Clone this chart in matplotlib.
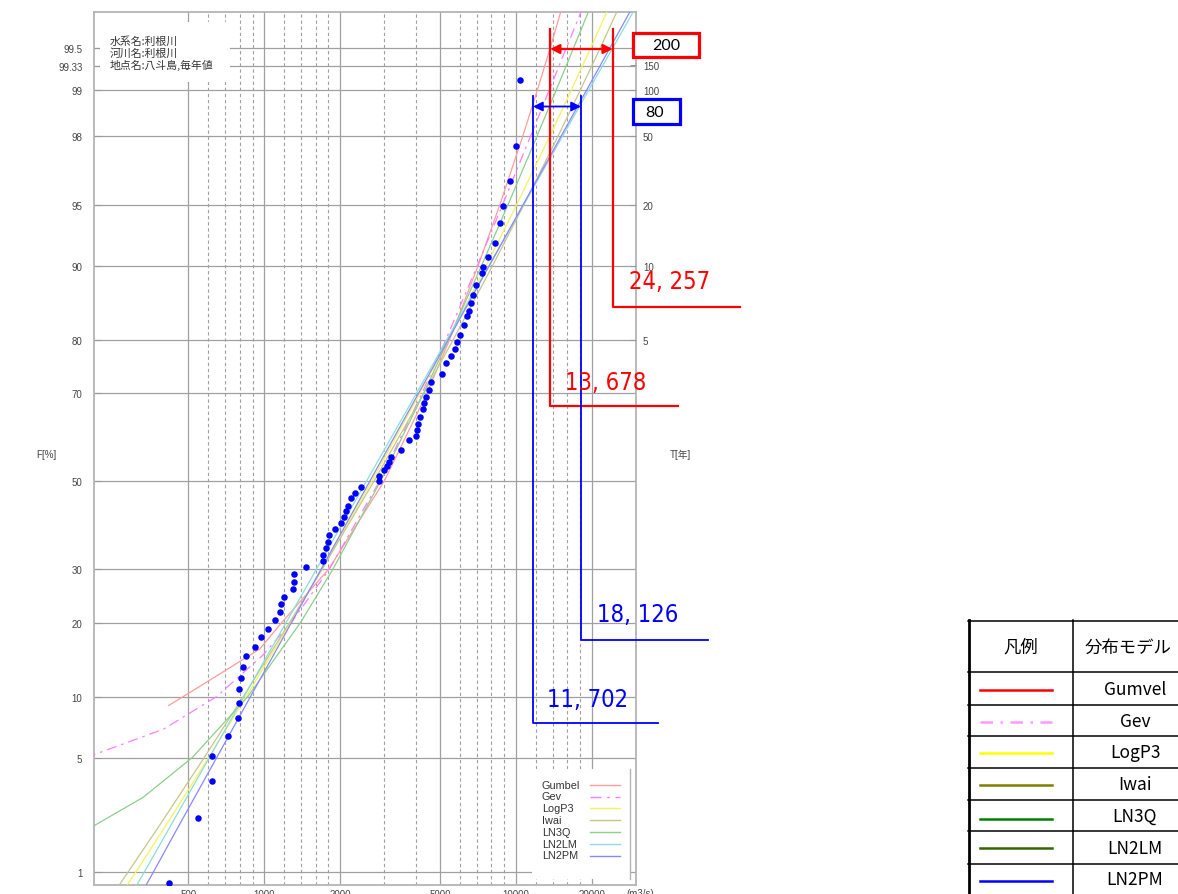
import math
import numpy as np
import matplotlib
matplotlib.use("Agg")
import matplotlib.pyplot as plt
from matplotlib import font_manager
from matplotlib.lines import Line2D
from matplotlib.patches import Rectangle

# observed annual maximum discharge (m3/s) and plotting position F (%)
obs_q = [417, 544, 622, 622, 718, 791, 792, 798, 808, 826, 846, 924, 976, 1038,
         1103, 1154, 1169, 1197, 1300, 1320, 1320, 1464, 1710, 1710, 1753, 1790,
         1818, 1920, 2011, 2067, 2118, 2149, 2217, 2299, 2436, 2854, 2854, 3006,
         3090, 3147, 3205, 3512, 3778, 4027, 4064, 4102, 4177, 4293, 4333, 4413,
         4536, 4620, 5108, 5299, 5546, 5753, 5858, 6022, 6246, 6420, 6539, 6659,
         6782, 6970, 7362, 7430, 7777, 8294, 8680, 8922, 9511, 10046, 10420]
obs_f = [0.84, 2.25, 3.71, 5.09, 6.46, 7.93, 9.33, 10.8, 12.1, 13.5, 14.9, 16.2,
         17.7, 19.0, 20.5, 21.8, 23.2, 24.6, 26.1, 27.4, 29.0, 30.4, 31.7, 33.1,
         34.5, 35.9, 37.5, 38.9, 40.1, 41.6, 43.0, 44.2, 45.9, 47.1, 48.6, 50.0,
         51.2, 52.6, 53.6, 54.5, 55.7, 57.3, 59.6, 60.6, 61.9, 63.3, 64.8, 66.6,
         67.9, 69.1, 70.6, 72.2, 73.8, 75.9, 77.1, 78.4, 79.6, 80.8, 82.3, 83.7,
         84.5, 85.5, 86.6, 87.8, 89.2, 89.9, 90.9, 92.2, 93.8, 94.9, 96.3, 97.7,
         99.15]

# fitted distributions (discharge read at these F %)
gumbel_f = [9.1, 11.6, 15.9, 20, 30, 50, 70, 80, 90, 95, 98, 99, 99.5, 99.8]
gumbel_q = [418, 592, 961, 1174, 1803, 2999, 4438, 5454, 7079, 8638, 10657, 12169, 13676, 15664]
gev_f = [5, 7, 10, 15, 20, 30, 50, 70, 80, 90, 95, 98, 99, 99.5, 99.8]
gev_q = [196, 398, 648, 987, 1281, 1814, 2875, 4243, 5269, 7026, 8852, 11442, 13566, 15849, 19142]
ln3q_f = [1.5, 2, 3, 5, 10, 20, 30, 50, 70, 80, 90, 95, 98, 99, 99.5, 99.8]
ln3q_q = [134, 209, 331, 518, 862, 1394, 1875, 2900, 4305, 5396, 7300, 9305, 12140, 14450, 16930, 20490]
common_f = [0.5, 1, 2, 5, 10, 20, 30, 50, 70, 80, 90, 95, 98, 99, 99.5, 99.8]
logp3_q = [240, 309, 405, 602, 849, 1274, 1694, 2677, 4158, 5383, 7622, 10070, 13640, 16600, 19800, 24370]
iwai_q = [222, 288, 382, 578, 827, 1262, 1698, 2731, 4311, 5636, 8074, 10765, 14720, 18020, 21610, 26740]
ln2lm_q = [268, 334, 424, 606, 832, 1222, 1613, 2550, 4032, 5319, 7816, 10735, 15346, 19460, 24220, 31520]
ln2pm_q = [293, 363, 457, 648, 883, 1284, 1683, 2630, 4111, 5387, 7839, 10683, 15136, 19087, 23605, 30540]

model_names = ["Gumbel", "Gev", "LogP3", "Iwai", "LN3Q", "LN2LM", "LN2PM"]
table_names = ["Gumvel", "Gev", "LogP3", "Iwai", "LN3Q", "LN2LM", "LN2PM"]

f_ticks = [1, 5, 10, 20, 30, 50, 70, 80, 90, 95, 98, 99, 99.33, 99.5]
f_labels = ["1", "5", "10", "20", "30", "50", "70", "80", "90", "95", "98", "99", "99.33", "99.5"]
t_ticks = [80, 90, 95, 98, 99, 99.333, 99.5]
t_labels = ["5", "10", "20", "50", "100", "150", "200"]
q_major = [500, 1000, 2000, 5000, 10000, 20000]
q_minor = [600, 700, 800, 900, 1200, 1400, 1600, 1800, 3000, 4000,
           6000, 7000, 8000, 9000, 12000, 14000, 16000, 18000]

q200 = [13678, 24257]   # red, T=200
q80 = [11702, 18126]    # blue, T=80
info_lines = ["水系名:利根川", "河川名:利根川", "地点名:八斗島,毎年値"]


# normal probability scale
_A = [-3.969683028665376e+01, 2.209460984245205e+02, -2.759285104469687e+02,
      1.383577518672690e+02, -3.066479806614716e+01, 2.506628277459239e+00]
_B = [-5.447609879822406e+01, 1.615858368580409e+02, -1.556989798598866e+02,
      6.680131188771972e+01, -1.328068155288572e+01]
_C = [-7.784894002430293e-03, -3.223964580411365e-01, -2.400758277161838e+00,
      -2.549732539343734e+00, 4.374664141464968e+00, 2.938163982698783e+00]
_D = [7.784695709041462e-03, 3.224671290700398e-01, 2.445134137142996e+00,
      3.754408661907416e+00]


def _tail(q):
    num = ((((_C[0] * q + _C[1]) * q + _C[2]) * q + _C[3]) * q + _C[4]) * q + _C[5]
    den = (((_D[0] * q + _D[1]) * q + _D[2]) * q + _D[3]) * q + 1
    return num / den


def pct_to_z(f):
    f = np.asarray(f, dtype=float)
    shape = f.shape
    p = np.clip(f.ravel() / 100.0, 1e-10, 1 - 1e-10)
    out = np.zeros_like(p)
    lo = p < 0.02425
    hi = p > 1 - 0.02425
    mid = ~(lo | hi)
    q = p[mid] - 0.5
    r = q * q
    num = (((((_A[0] * r + _A[1]) * r + _A[2]) * r + _A[3]) * r + _A[4]) * r + _A[5]) * q
    den = ((((_B[0] * r + _B[1]) * r + _B[2]) * r + _B[3]) * r + _B[4]) * r + 1
    out[mid] = num / den
    out[lo] = _tail(np.sqrt(-2 * np.log(p[lo])))
    out[hi] = -_tail(np.sqrt(-2 * np.log(1 - p[hi])))
    return out.reshape(shape)


_erf = np.vectorize(math.erf, otypes=[float])


def z_to_pct(z):
    return 50.0 * (1.0 + _erf(np.asarray(z, dtype=float) / math.sqrt(2)))


names = {f.name for f in font_manager.fontManager.ttflist}
if "Liberation Sans Narrow" in names:
    narrow = dict(family="Liberation Sans Narrow", fontsize=23.5)
else:
    narrow = dict(family="DejaVu Sans", fontstretch="condensed", fontsize=17)

plt.rcParams["font.family"] = ["Liberation Sans", "Noto Sans CJK JP", "DejaVu Sans"]
JP = ["Noto Sans CJK JP", "DejaVu Sans"]

W, H = 1178, 895
fig = plt.figure(figsize=(W / 100, H / 100), dpi=100)


def fx(px):
    return px / W


def fy(py):
    return 1 - py / H


ax = fig.add_axes([fx(93.5), fy(885.5), (636 - 93.5) / W, (885.5 - 12.5) / H])
ax.set_xscale("log")
ax.set_yscale("function", functions=(pct_to_z, z_to_pct))
ax.set_xlim(210, 30000)
ax.set_ylim(0.82, 99.74)
ax.set_axisbelow(True)

ax.set_xticks(q_major)
ax.set_xticks(q_minor, minor=True)
ax.set_xticklabels([str(v) for v in q_major], fontsize=7, color="#444444")
ax.xaxis.set_minor_formatter(matplotlib.ticker.NullFormatter())
ax.tick_params(axis="x", which="both", length=0, pad=3)
ax.set_yticks(f_ticks)
ax.set_yticklabels(f_labels, fontsize=7, color="#444444")
ax.yaxis.set_minor_locator(matplotlib.ticker.NullLocator())
ax.tick_params(axis="y", direction="in", length=5, color="#999999", pad=8)

ax.grid(True, which="major", axis="both", color="#a0a0a0", lw=0.9, ls="-")
ax.grid(True, which="minor", axis="x", color="#a0a0a0", lw=0.8, ls=(0, (3, 2.5)))
for s in ax.spines.values():
    s.set_color("#b4b4b4")
    s.set_linewidth(1.3)

ax2 = ax.twinx()
ax2.set_yscale("function", functions=(pct_to_z, z_to_pct))
ax2.set_ylim(0.82, 99.74)
ax2.set_yticks(t_ticks)
ax2.set_yticklabels(t_labels, fontsize=7, color="#444444")
ax2.yaxis.set_minor_locator(matplotlib.ticker.NullLocator())
ax2.tick_params(axis="y", direction="in", length=4, color="#999999", pad=5)
for s in ax2.spines.values():
    s.set_visible(False)

# fitted curves
curve_style = [
    (gumbel_f, gumbel_q, "#ff9c9c", "-"),
    (gev_f, gev_q, "#ff7cff", (0, (8, 4, 2, 4))),
    (common_f, logp3_q, "#f4f45a", "-"),
    (common_f, iwai_q, "#c6c68a", "-"),
    (ln3q_f, ln3q_q, "#8ccf8c", "-"),
    (common_f, ln2lm_q, "#8cdcdc", "-"),
    (common_f, ln2pm_q, "#8888ff", "-"),
]
for f, q, c, ls in curve_style:
    ax.plot(q, f, color=c, lw=0.9, ls=ls, zorder=3)

ax.scatter(obs_q, obs_f, s=22, color="#0000ff", zorder=5, linewidths=0)

# white label box top-left
ax.add_patch(Rectangle((fx(100), fy(83)), fx(130), 60 / H, transform=fig.transFigure,
                       facecolor="white", edgecolor="none", zorder=2))
for i, s in enumerate(info_lines):
    ax.text(fx(110), fy(41.5 + 11.8 * i), s, transform=fig.transFigure, family=JP,
            fontsize=7.8, color="#333333", va="center", zorder=6)

# in-plot legend
ax.add_patch(Rectangle((fx(532), fy(880)), fx(98), 110 / H, transform=fig.transFigure,
                       facecolor="white", edgecolor="none", zorder=6))
ax.add_line(Line2D([fx(630), fx(630)], [fy(770), fy(880)], transform=fig.transFigure,
                   color="#b4b4b4", lw=1.0, zorder=7))
for i, (name, (_, _, c, ls)) in enumerate(zip(model_names, curve_style)):
    y = fy(785.7 + 11.8 * i)
    ax.text(fx(542), y, name, transform=fig.transFigure, fontsize=7.8, color="#333333",
            va="center", zorder=7)
    ax.add_line(Line2D([fx(590), fx(620)], [y, y], transform=fig.transFigure,
                       color=c, lw=1.0, ls=ls, zorder=7))

fig.text(fx(640), fy(889), "(m3/s)", fontsize=7, color="#444444", ha="center", va="top")
fig.text(fx(36), fy(455), "F[%]", fontsize=7, color="#444444", va="center")
fig.text(fx(670), fy(455), "T[年]", fontsize=7, color="#444444", va="center")


# annotations
def qx(q):
    return fig.transFigure.inverted().transform(ax.transData.transform((q, 50)))[0]


red, blue = "#ff0000", "#0000ff"
x1, x2 = qx(q200[0]), qx(q200[1])
fig.add_artist(Line2D([x1, x1, fx(678)], [fy(30), fy(407), fy(407)], color=red, lw=1.6))
fig.add_artist(Line2D([x2, x2, fx(740)], [fy(30), fy(308), fy(308)], color=red, lw=1.6))
fig.add_artist(plt.Annotation("", xy=(x2, fy(50)), xytext=(x1, fy(50)),
                              xycoords="figure fraction", textcoords="figure fraction",
                              arrowprops=dict(arrowstyle="<|-|>", color=red, lw=1.6,
                                              mutation_scale=14, shrinkA=0, shrinkB=0)))
fig.text(fx(565), fy(390), f"{q200[0] // 1000}, {q200[0] % 1000:03d}", color=red,
         va="baseline", **narrow)
fig.text(fx(629), fy(289), f"{q200[1] // 1000}, {q200[1] % 1000:03d}", color=red,
         va="baseline", **narrow)

b1, b2 = qx(q80[0]), qx(q80[1])
fig.add_artist(Line2D([b1, b1, fx(658)], [fy(97), fy(724), fy(724)], color=blue, lw=1.3))
fig.add_artist(Line2D([b2, b2, fx(708)], [fy(97), fy(641), fy(641)], color=blue, lw=1.3))
fig.add_artist(plt.Annotation("", xy=(b2, fy(107.5)), xytext=(b1, fy(107.5)),
                              xycoords="figure fraction", textcoords="figure fraction",
                              arrowprops=dict(arrowstyle="<|-|>", color=blue, lw=1.3,
                                              mutation_scale=14, shrinkA=0, shrinkB=0)))
fig.text(fx(547), fy(707), f"{q80[0] // 1000}, {q80[0] % 1000:03d}", color=blue,
         va="baseline", **narrow)
fig.text(fx(597), fy(622), f"{q80[1] // 1000}, {q80[1] % 1000:03d}", color=blue,
         va="baseline", **narrow)

# return period boxes
fig.add_artist(Rectangle((fx(633), fy(58)), fx(66), 24 / H, transform=fig.transFigure,
                         facecolor="white", edgecolor=red, lw=2.3))
fig.text(fx(666), fy(46), "200", family="Lato", fontsize=11.5, ha="center", va="center")
fig.add_artist(Rectangle((fx(633), fy(125)), fx(47), 25 / H, transform=fig.transFigure,
                         facecolor="white", edgecolor=blue, lw=2.3))
fig.text(fx(655), fy(113), "80", family="Lato", fontsize=11.5, ha="center", va="center")

# legend table (bottom right)
row_lines = [621.7, 673.3, 706, 737.3, 769, 800.7, 832.3, 865]
for yy in row_lines:
    fig.add_artist(Line2D([fx(968), fx(1178)], [fy(yy), fy(yy)], color="black", lw=1.1))
fig.add_artist(Line2D([fx(968.7), fx(968.7)], [fy(621), fy(895)], color="black", lw=2.0))
fig.add_artist(Line2D([fx(1072.7), fx(1072.7)], [fy(621), fy(895)], color="black", lw=1.1))
fig.text(fx(1021), fy(648), "凡例", family=JP, fontsize=12.5, ha="center", va="center")
fig.text(fx(1085), fy(648), "分布モデル", family=JP, fontsize=12.5, ha="left", va="center")

table_colors = ["#ff0000", "#ff99ff", "#ffff00", "#808000", "#008000", "#336600", "#0000ff"]
table_styles = ["-", (0, (5, 3, 1, 3)), "-", "-", "-", "-", "-"]
sample_y = [691, 723, 754, 786, 820, 848.7, 882]
text_y = [689.7, 721.7, 753, 785, 816.5, 848.7, 880]
for name, c, ls, sy, ty in zip(table_names, table_colors, table_styles, sample_y, text_y):
    fig.add_artist(Line2D([fx(980), fx(1052)], [fy(sy), fy(sy)], color=c, lw=1.8, ls=ls))
    fig.text(fx(1135), fy(ty), name, family=JP, fontsize=12.5, ha="center", va="center")

fig.savefig("out.png", dpi=100)
